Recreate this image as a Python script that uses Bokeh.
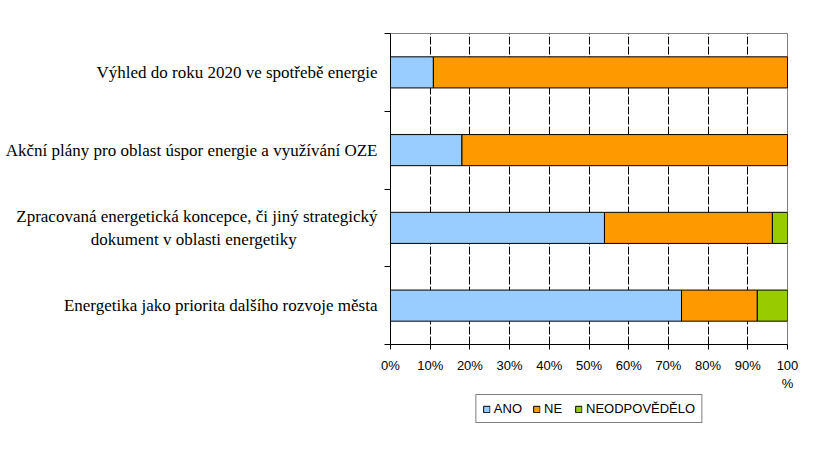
from bokeh.plotting import figure
from bokeh.layouts import column
from bokeh.models import FixedTicker, ColumnDataSource, Legend, LegendItem
from bokeh.embed import file_html
from bokeh.resources import INLINE

NB = "\u00a0"
categories = [
    "Výhled do roku 2020 ve spotřebě energie",
    "Akční plány pro oblast úspor energie a využívání OZE",
    "Zpracovaná energetická koncepce, či jiný strategický\ndokument v oblasti energetiky" + NB * 19,
    "Energetika jako priorita dalšího rozvoje města",
]
ano = [10.8, 18.0, 53.9, 73.3]
ne = [89.2, 82.0, 42.3, 19.1]
neodp = [0.0, 0.0, 3.8, 7.6]
series_keys = ["ANO", "NE", "NEODP"]
series_names = ["ANO", "NE", "NEODPOVĚDĚLO"]
colors = ["#99CCFF", "#FF9900", "#99CC00"]
x_ticks = [0, 10, 20, 30, 40, 50, 60, 70, 80, 90, 100]
x_tick_labels = ["0%", "10%", "20%", "30%", "40%", "50%", "60%", "70%", "80%", "90%", "100\n%"]

n = len(categories)
ypos = [n - i - 0.5 for i in range(n)]
source = ColumnDataSource(dict(y=ypos, ANO=ano, NE=ne, NEODP=neodp))

serif = "Times New Roman"
sans = "Arial"

p = figure(width=810, height=393, x_range=(0, 100), y_range=(0, n),
           output_backend="svg", toolbar_location=None,
           min_border_left=390, min_border_right=23, min_border_top=33,
           min_border_bottom=46)
p.background_fill_color = "white"
p.border_fill_color = "white"
p.outline_line_color = "#808080"
p.outline_line_width = 1

p.hbar_stack(series_keys, y="y", height=0.4, source=source,
             fill_color=colors, line_color="black", line_width=1)

# x axis
p.xaxis.ticker = FixedTicker(ticks=x_ticks)
p.xaxis.major_label_overrides = {t: l for t, l in zip(x_ticks, x_tick_labels)}
p.xaxis.major_label_text_font = sans
p.xaxis.major_label_text_font_size = "13px"
p.xaxis.major_label_text_color = "black"
p.xaxis.axis_line_color = "black"
p.xaxis.major_tick_line_color = "black"
p.xaxis.major_tick_in = 0
p.xaxis.major_tick_out = 5
p.xaxis.minor_tick_line_color = None
p.xaxis.major_label_standoff = 8

# y axis
p.yaxis.ticker = FixedTicker(ticks=ypos, minor_ticks=list(range(n + 1)))
p.yaxis.major_label_overrides = {y: c for y, c in zip(ypos, categories)}
p.yaxis.major_label_text_font = serif
p.yaxis.major_label_text_font_size = "17px"
p.yaxis.major_label_text_color = "black"
p.yaxis.axis_line_color = "black"
p.yaxis.major_tick_in = 0
p.yaxis.major_tick_out = 0
p.yaxis.minor_tick_in = 0
p.yaxis.minor_tick_out = 6
p.yaxis.minor_tick_line_color = "black"
p.yaxis.major_label_standoff = 7

# grid
p.ygrid.grid_line_color = None
p.xgrid.ticker = FixedTicker(ticks=x_ticks[1:-1])
p.xgrid.grid_line_color = "black"
p.xgrid.grid_line_dash = "8 2"
p.xgrid.grid_line_width = 1

# legend strip below the chart (its bars lie outside its own y range)
p2 = figure(width=810, height=40, x_range=(0, 100), y_range=(100, 101),
            output_backend="svg", toolbar_location=None,
            min_border_left=376, min_border_right=0, min_border_top=1, min_border_bottom=0)
p2.axis.visible = False
p2.grid.visible = False
p2.outline_line_color = None
p2.background_fill_color = "white"
p2.border_fill_color = "white"
lrs = p2.hbar_stack(series_keys, y="y", height=0.4, source=source,
                    fill_color=colors, line_color="black", line_width=1)
items = [LegendItem(label=nm, renderers=[r]) for nm, r in zip(series_names, lrs)]
legend = Legend(items=items, location="top", orientation="horizontal",
                border_line_color="black", border_line_width=1,
                label_text_font=sans, label_text_font_size="13px",
                label_text_color="black",
                glyph_width=8, glyph_height=8, padding=6, spacing=10,
                label_standoff=4, margin=0, label_height=12)
p2.add_layout(legend)

layout = column(p, p2, spacing=0)
open("out.html", "w").write(file_html(layout, INLINE))
